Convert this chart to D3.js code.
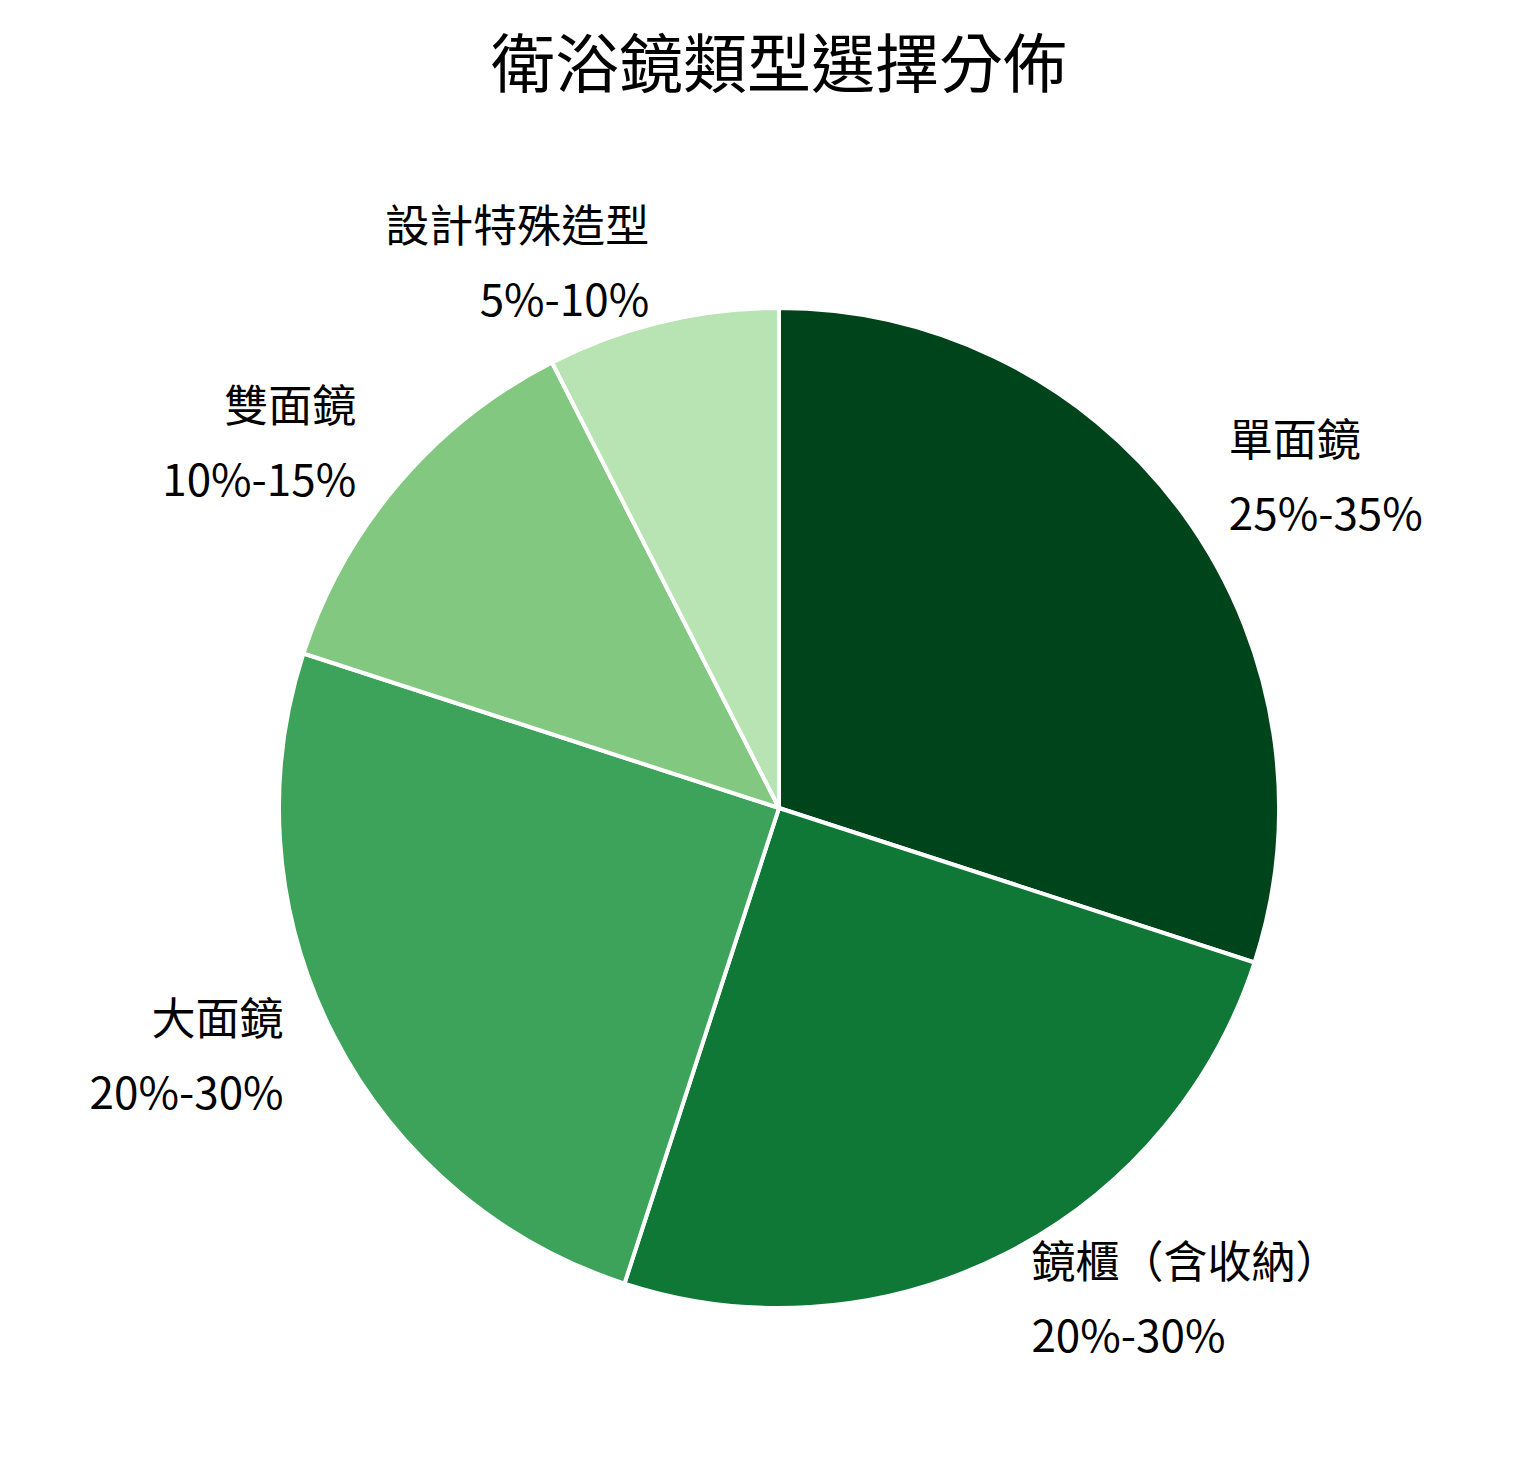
<!DOCTYPE html>
<html><head><meta charset="utf-8">
<script src="https://cdn.jsdelivr.net/npm/d3@7"></script>
<style>body{margin:0;background:#fff;}text{font-family:"Noto Sans CJK TC","Noto Sans",sans-serif;fill:#000;}</style>
</head><body>
<svg id="chart"></svg>
<script>
var categories = ["單面鏡", "鏡櫃（含收納）", "大面鏡", "雙面鏡", "設計特殊造型"];
var values = [30, 25, 25, 12.5, 7.5];
var rangeLabels = ["25%-35%", "20%-30%", "20%-30%", "10%-15%", "5%-10%"];
var colors = ["#00441b", "#0f7836", "#3da35a", "#82c880", "#b8e3b3"];

var width = 1514, height = 1468,
    cx = 779, cy = 808, radius = 500, labelR = 556;

var svg = d3.select("#chart").attr("width", width).attr("height", height);

svg.append("text")
    .attr("x", cx).attr("y", 70)
    .attr("text-anchor", "middle").attr("dominant-baseline", "middle")
    .attr("font-size", 64)
    .text("衛浴鏡類型選擇分佈");

var pie = d3.pie().sort(null).value(function(d) { return d; });
var arc = d3.arc().innerRadius(0).outerRadius(radius);
var labelArc = d3.arc().innerRadius(labelR).outerRadius(labelR);

var g = svg.append("g").attr("transform", "translate(" + cx + "," + cy + ")");
var arcs = pie(values);

g.selectAll("path").data(arcs).enter().append("path")
    .attr("d", arc)
    .attr("fill", function(d, i) { return colors[i]; })
    .attr("stroke", "#fff").attr("stroke-width", 4);

var labels = g.selectAll(".lbl").data(arcs).enter().append("text")
    .attr("class", "lbl")
    .attr("font-size", 44)
    .attr("text-anchor", function(d) { return (d.startAngle + d.endAngle) / 2 < Math.PI ? "start" : "end"; })
    .attr("transform", function(d) { return "translate(" + labelArc.centroid(d) + ")"; });

labels.append("tspan").attr("x", 0).attr("y", -37).attr("dominant-baseline", "middle")
    .text(function(d, i) { return categories[i]; });
labels.append("tspan").attr("x", 0).attr("y", 37).attr("dominant-baseline", "middle")
    .text(function(d, i) { return rangeLabels[i]; });
</script>
</body></html>
